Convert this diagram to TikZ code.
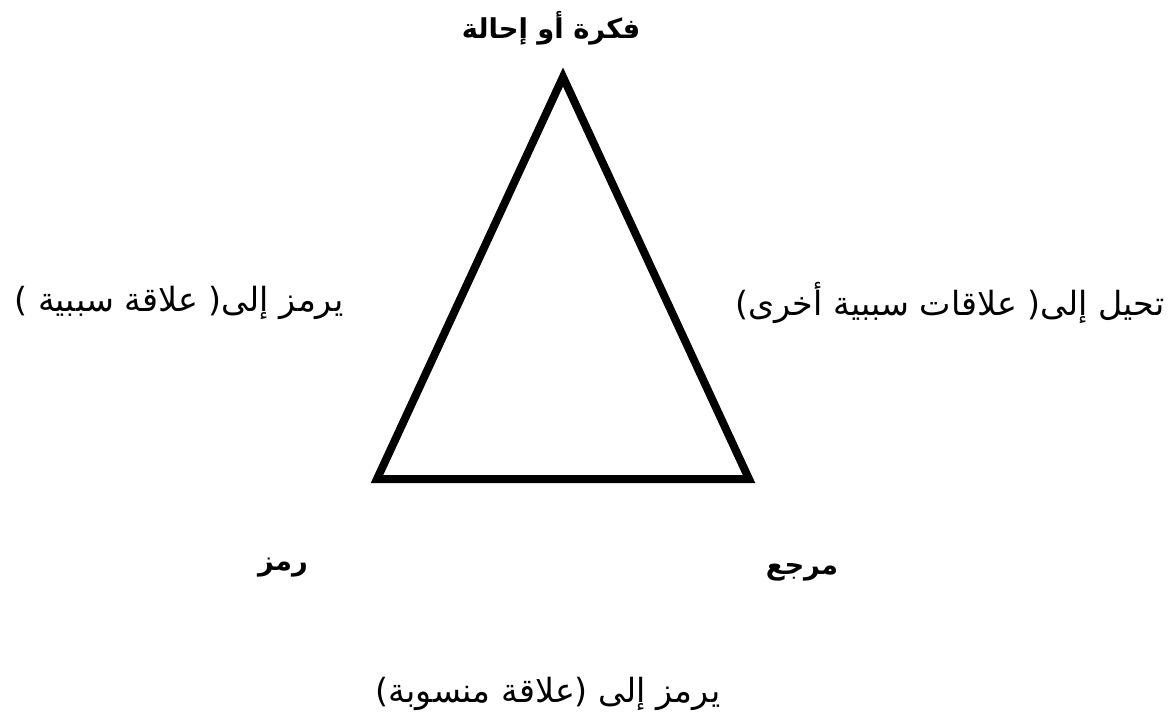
\documentclass[tikz,border=0pt]{standalone}
\usepackage{fontspec}
\newfontfamily\arabicfont[Script=Arabic]{DejaVu Sans}
\TeXXeTstate=1
\newcommand{\artext}[1]{\beginR #1\endR}

\begin{document}
\begin{tikzpicture}[
    x=0.75pt,
    y=-0.75pt,
    side/.style={
        draw,
        line width=6pt,
        line join=miter
    },
    corner/.style={
        font=\arabicfont\bfseries\fontsize{20.5}{24}\selectfont,
        inner sep=0pt
    },
    relation/.style={
        font=\arabicfont\fontsize{25}{30}\selectfont,
        inner sep=0pt
    }
]
    \useasboundingbox (0,0) rectangle (1173,725);

    % Triangle
    \coordinate (apex) at (563,77);
    \coordinate (bl) at (377,479);
    \coordinate (br) at (749,479);
    \path [side] (apex) -- (bl) -- (br) -- cycle;

    % Corners
    \node [corner] (idea) at (551,28) {\artext{فكرة أو إحالة}};
    \node [corner] (symbol) at (283,568) {\artext{رمز}};
    \node [corner] (referent) at (802,572) {\artext{مرجع}};

    % Relations
    \node [relation] (symlink) at (179,303) {\artext{يرمز إلى( علاقة سببية )}};
    \node [relation] (reflink) at (950,303) {\artext{تحيل إلى( علاقات سببية أخرى)}};
    \node [relation] (attrib) at (548,694) {\artext{يرمز إلى (علاقة منسوبة)}};

\end{tikzpicture}
\end{document}
